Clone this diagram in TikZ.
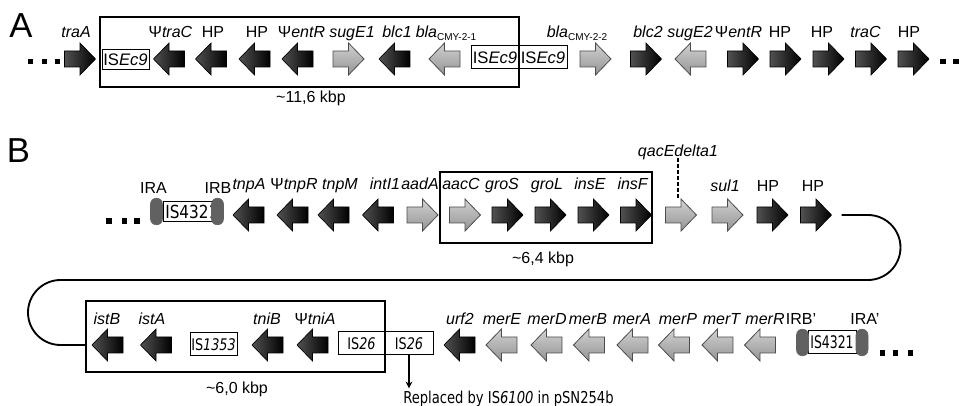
\documentclass[tikz,border=0pt]{standalone}
\usepackage{fontspec}
\setmainfont{Liberation Sans}
\newfontfamily\dvsA[FakeStretch=0.8]{DejaVu Sans}
\newfontfamily\dvsB[FakeStretch=0.72]{DejaVu Sans}
\newfontfamily\dvsC[FakeStretch=0.85]{DejaVu Sans}
\usetikzlibrary{calc,arrows.meta}

% gene arrow: name, x, y, direction (1 right / -1 left), style
\newcommand\gene[5]{%
  \begin{scope}[shift={(#2,#3)},xscale=#4]
    \path[#5] (-15.5,-8) -- (0,-8) -- (0,-16) -- (15.5,0) -- (0,16) -- (0,8) -- (-15.5,8) -- cycle;
  \end{scope}
  \coordinate (#1) at (#2,#3);
  \coordinate (#1-tip) at ({#2+15.5*#4},#3);
  \coordinate (#1-top) at (#2,{#3-16});
}
% box given by pixel corners: name, x1, y1, x2, y2, style, text
\newcommand\pxbox[7]{%
  \node[#6,minimum width={(#4-#2)*0.75pt},minimum height={(#5-#3)*0.75pt},inner sep=0pt]
    (#1) at ({(#2+#4)/2},{(#3+#5)/2}) {#7};}
\newcommand\cmysub[1]{\raisebox{-2.2pt}{\fontsize{7.5}{8}\selectfont #1}}

\begin{document}
\begin{tikzpicture}[x=0.75pt,y=-0.75pt,
  blk/.style={draw=black,line width=0.5pt,left color=black!68,right color=black},
  gry/.style={draw=black!70,line width=0.6pt,top color=black!18,bottom color=black!42},
  lab/.style={font=\fontsize{12}{14}\selectfont,inner sep=0pt,anchor=base},
  big/.style={font=\fontsize{26}{30}\selectfont,inner sep=0pt,anchor=base},
  frame/.style={draw=black,line width=1.1pt},
  isbox/.style={draw=black,line width=0.75pt,font=\fontsize{12.5}{14}\selectfont},
  isboxb/.style={draw=black,line width=0.75pt,font=\dvsA\fontsize{12}{14}\selectfont},
  ir/.style={fill=black!62,draw=black!62,rounded corners=4.4pt,minimum width=9pt,minimum height=20pt,inner sep=0pt},
  dot/.style={fill=black,minimum size=3.8pt,inner sep=0pt},
  conn/.style={line width=1.4pt,rounded corners=24.4pt}
]
\useasboundingbox (0,0) rectangle (965,406);

% ---------------- Panel A ----------------
\node[big] (lA) at (21,38) {A};
\node[dot] (dA1) at (30.5,61.5) {};
\node[dot] (dA2) at (44.5,61.5) {};
\node[dot] (dA3) at (57.5,61.5) {};

\pxbox{boxA}{100}{17}{519}{87}{frame}{}
\pxbox{isA1}{102}{50}{149}{70}{isbox}{IS\textit{Ec9}}
\pxbox{isA2}{471}{46}{519}{69}{isbox}{IS\textit{Ec9}}
\pxbox{isA3}{519}{46}{567}{69}{isbox}{IS\textit{Ec9}}
\node[lab] (kA) at (311,103) {\textasciitilde11,6 kbp};

\gene{traA}{80}{59}{1}{blk}
\gene{traCa}{169}{59}{-1}{blk}
\gene{hpA1}{211}{59}{-1}{blk}
\gene{hpA2}{254.5}{59}{-1}{blk}
\gene{entRa}{297.5}{59}{-1}{blk}
\gene{sugEa}{348.5}{59}{1}{gry}
\gene{blca}{394.5}{59}{-1}{blk}
\gene{blaa}{444.5}{59}{-1}{gry}
\gene{blab}{595.5}{59}{1}{gry}
\gene{blcb}{646}{59}{1}{blk}
\gene{sugEb}{690.5}{59}{-1}{gry}
\gene{entRb}{743}{59}{1}{blk}
\gene{hpA3}{785.5}{59}{1}{blk}
\gene{hpA4}{828.5}{59}{1}{blk}
\gene{traCb}{871}{59}{1}{blk}
\gene{hpA5}{913.5}{59}{1}{blk}
\node[dot] (dA4) at (943,61.5) {};
\node[dot] (dA5) at (956,61.5) {};

\node[lab] (ltraA) at (76,38) {\textit{traA}};
\node[lab] (ltraCa) at (170.5,38) {Ψ\textit{traC}};
\node[lab] (lhpA1) at (213,38) {HP};
\node[lab] (lhpA2) at (257,38) {HP};
\node[lab] (lentRa) at (301.5,38) {Ψ\textit{entR}};
\node[lab] (lsugEa) at (352,38) {\textit{sugE1}};
\node[lab] (lblca) at (397,38) {\textit{blc1}};
\node[lab] (lblaa) at (446,38) {\textit{bla}\cmysub{CMY-2-1}};
\node[lab] (lblab) at (577,38) {\textit{bla}\cmysub{CMY-2-2}};
\node[lab] (lblcb) at (648,38) {\textit{blc2}};
\node[lab] (lsugEb) at (690,38) {\textit{sugE2}};
\node[lab] (lentRb) at (738.5,38) {Ψ\textit{entR}};
\node[lab] (lhpA3) at (780,38) {HP};
\node[lab] (lhpA4) at (822,38) {HP};
\node[lab] (ltraCb) at (865.5,38) {\textit{traC}};
\node[lab] (lhpA5) at (909,38) {HP};

% ---------------- Panel B, top row ----------------
\node[big] (lB) at (18.5,163) {B};
\node[dot] (dB1) at (109,221) {};
\node[dot] (dB2) at (124.5,221) {};
\node[dot] (dB3) at (137,221) {};

\pxbox{isB1}{163}{202}{213}{222}{draw=black,line width=0.75pt}{}
\node[inner sep=0pt,anchor=west,font=\dvsC\fontsize{13.5}{15}\selectfont] (isB1t) at (165,212) {IS4321};
\node[ir] (ira) at (156.5,211.5) {};
\node[ir] (irb) at (217.5,211.5) {};
\node[lab] (lira) at (153.5,194) {IRA};
\node[lab] (lirb) at (218,194) {IRB};

\pxbox{boxB}{440}{172}{652}{243}{frame}{}
\node[lab] (kB) at (543,263.5) {\textasciitilde6,4 kbp};

\gene{tnpA}{248.5}{215}{-1}{blk}
\gene{tnpR}{292.5}{215}{-1}{blk}
\gene{tnpM}{333.5}{215}{-1}{blk}
\gene{intI}{378}{215}{-1}{blk}
\gene{aadA}{422.5}{215}{1}{gry}
\gene{aacC}{465}{215}{1}{gry}
\gene{groS}{507.5}{215}{1}{blk}
\gene{groL}{550.5}{215}{1}{blk}
\gene{insE}{593.5}{215}{1}{blk}
\gene{insF}{636}{215}{1}{blk}
\gene{qacE}{681}{215}{1}{gry}
\gene{sul}{727.5}{215}{1}{gry}
\gene{hpB1}{772.5}{215}{1}{blk}
\gene{hpB2}{816}{215}{1}{blk}

\node[lab] (ltnpA) at (249,190) {\textit{tnpA}};
\node[lab] (ltnpR) at (294,190) {Ψ\textit{tnpR}};
\node[lab] (ltnpM) at (340,190) {\textit{tnpM}};
\node[lab] (lintI) at (385,190) {\textit{intI1}};
\node[lab] (laadA) at (420,190) {\textit{aadA}};
\node[lab] (laacC) at (461,190) {\textit{aacC}};
\node[lab] (lgroS) at (502,190) {\textit{groS}};
\node[lab] (lgroL) at (547,190) {\textit{groL}};
\node[lab] (linsE) at (590,190) {\textit{insE}};
\node[lab] (linsF) at (633,190) {\textit{insF}};
\node[lab] (lqacE) at (678,157) {\textit{qacEdelta1}};
\node[lab] (lsul) at (725,192) {\textit{sul1}};
\node[lab] (lhpB1) at (768,192) {HP};
\node[lab] (lhpB2) at (813,192) {HP};

\draw[line width=0.8pt,dash pattern=on 3pt off 1.5pt] (lqacE.south) ++(0,-3) -- (lqacE.south |- qacE-top);

% ---------------- Panel B, bottom row ----------------
\pxbox{boxC}{86}{301}{385}{372}{frame}{}
\node[lab] (kC) at (237,393) {\textasciitilde6,0 kbp};
\pxbox{isC1}{190}{333}{237}{356}{isboxb}{IS\textit{1353}}
\pxbox{isC2}{338}{332}{385}{355}{isboxb}{IS\textit{26}}
\pxbox{isC3}{385}{332}{433}{355}{isboxb}{IS\textit{26}}

\gene{istB}{107.5}{345}{-1}{blk}
\gene{istA}{156}{345}{-1}{blk}
\gene{tniB}{267.5}{345}{-1}{blk}
\gene{tniA}{312.5}{345}{-1}{blk}
\gene{urf}{459.5}{345}{-1}{blk}
\gene{merE}{501.5}{345}{-1}{gry}
\gene{merD}{546.5}{345}{-1}{gry}
\gene{merB}{589}{345}{-1}{gry}
\gene{merA}{632.5}{345}{-1}{gry}
\gene{merP}{674}{345}{-1}{gry}
\gene{merT}{717.5}{345}{-1}{gry}
\gene{merR}{760}{345}{-1}{gry}

\pxbox{isC4}{808}{331}{856}{354}{draw=black,line width=0.75pt,font=\dvsB\fontsize{13}{15}\selectfont}{IS4321}
\node[ir] (irbp) at (802.5,342.5) {};
\node[ir] (irap) at (862,342.5) {};
\node[dot] (dC1) at (882.5,353) {};
\node[dot] (dC2) at (895.5,353) {};
\node[dot] (dC3) at (910.5,353) {};

\node[lab] (listB) at (107,325) {\textit{istB}};
\node[lab] (listA) at (152,325) {\textit{istA}};
\node[lab] (ltniB) at (267,325) {\textit{tniB}};
\node[lab] (ltniA) at (315,325) {Ψ\textit{tniA}};
\node[lab] (lurf) at (460,325) {\textit{urf2}};
\node[lab] (lmerE) at (502,325) {\textit{merE}};
\node[lab] (lmerD) at (547,325) {\textit{merD}};
\node[lab] (lmerB) at (588,325) {\textit{merB}};
\node[lab] (lmerA) at (632,325) {\textit{merA}};
\node[lab] (lmerP) at (678,325) {\textit{merP}};
\node[lab] (lmerT) at (722,325) {\textit{merT}};
\node[lab] (lmerR) at (765,325) {\textit{merR}};
\node[lab] (lirbp) at (801,325) {IRB'};
\node[lab] (lirap) at (865,325) {IRA'};

\node[inner sep=0pt,anchor=base west,font=\dvsA\fontsize{12.3}{14}\selectfont] (repl) at (403,403) {Replaced by IS\textit{6100} in pSN254b};
\draw[line width=0.8pt,-{Stealth[length=5pt,width=5pt]}] (isC3.south) -- ($(isC3.south |- repl.north)+(0,-2)$);

% loop connector between the two rows
\draw[conn] ($(hpB2-tip)+(10,0)$) -- (900.5,215) -- (900.5,280) -- (28,280) -- (28,345) -- (boxC.west |- istB);
\end{tikzpicture}
\end{document}
